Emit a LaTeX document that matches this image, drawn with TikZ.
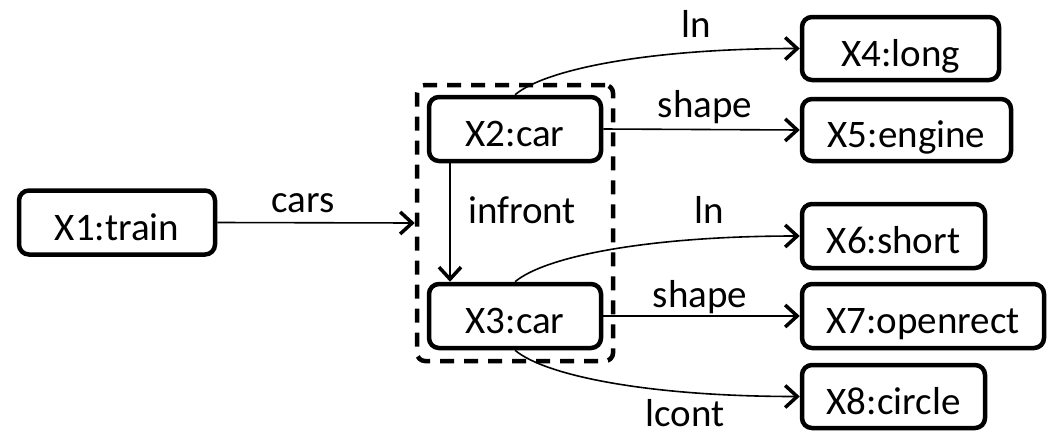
\documentclass[tikz,border=0pt]{standalone}
\usepackage{fontspec}
\setmainfont{Carlito}
\usetikzlibrary{arrows.meta}
\begin{document}
\begin{tikzpicture}[x=1pt,y=-1pt,
  font=\fontsize{39}{47}\selectfont,
  obj/.style={draw,line width=4.5pt,rounded corners=10pt,inner sep=0pt,
    text height=36pt,text depth=1pt,minimum height=64pt},
  grpbox/.style={draw,line width=4.5pt,rounded corners=8pt,dash pattern=on 14pt off 10pt,
    minimum width=196pt,minimum height=276pt,inner sep=0pt},
  rel/.style={line width=1.6pt,-{Straight Barb[length=12pt,width=22pt,line width=3.5pt]}},
  upcurve/.style={out=40,in=180,out distance=40pt,in distance=150pt},
  downcurve/.style={out=-40,in=180,out distance=40pt,in distance=150pt},
  lbl/.style={anchor=base,inner sep=0pt}]
\useasboundingbox (0,0) rectangle (1048,434);
\node[grpbox] (grp) at (515,223) {};
\node[obj,minimum width=196pt] (X1) at (117,222.5) {X1:train};
\node[obj,minimum width=172pt] (X2) at (515,129) {X2:car};
\node[obj,minimum width=172pt] (X3) at (515,316) {X3:car};
\node[obj,minimum width=197pt,minimum height=63pt] (X4) at (900.5,48.5) {X4:long};
\node[obj,minimum width=209pt,minimum height=62pt] (X5) at (906.5,130) {X5:engine};
\node[obj,minimum width=183pt] (X6) at (893.5,236) {X6:short};
\node[obj,minimum width=242pt] (X7) at (923,316) {X7:openrect};
\node[obj,minimum width=183pt,minimum height=63pt] (X8) at (893.5,396.5) {X8:circle};
\draw[rel] (X1.east) -- (grp.west);
\draw[rel] ([xshift=-65pt]X2.south) -- ([xshift=-65pt]X3.north);
\draw[rel] (X2.north) to[upcurve] (X4.west);
\draw[rel] (X2.east) -- (X5.west);
\draw[rel] (X3.north) to[upcurve] (X6.west);
\draw[rel] (X3.east) -- (X7.west);
\draw[rel] (X3.south) to[downcurve] (X8.west);
\node[lbl] (lcars) at (303,212.7) {cars};
\node[lbl] (linf) at (522,223) {infront};
\node[lbl] (lln1) at (696,37) {ln};
\node[lbl] (lsh1) at (705,117) {shape};
\node[lbl] (lln2) at (709,223) {ln};
\node[lbl] (lsh2) at (700,307) {shape};
\node[lbl] (llc) at (685,426) {lcont};
\end{tikzpicture}
\end{document}
